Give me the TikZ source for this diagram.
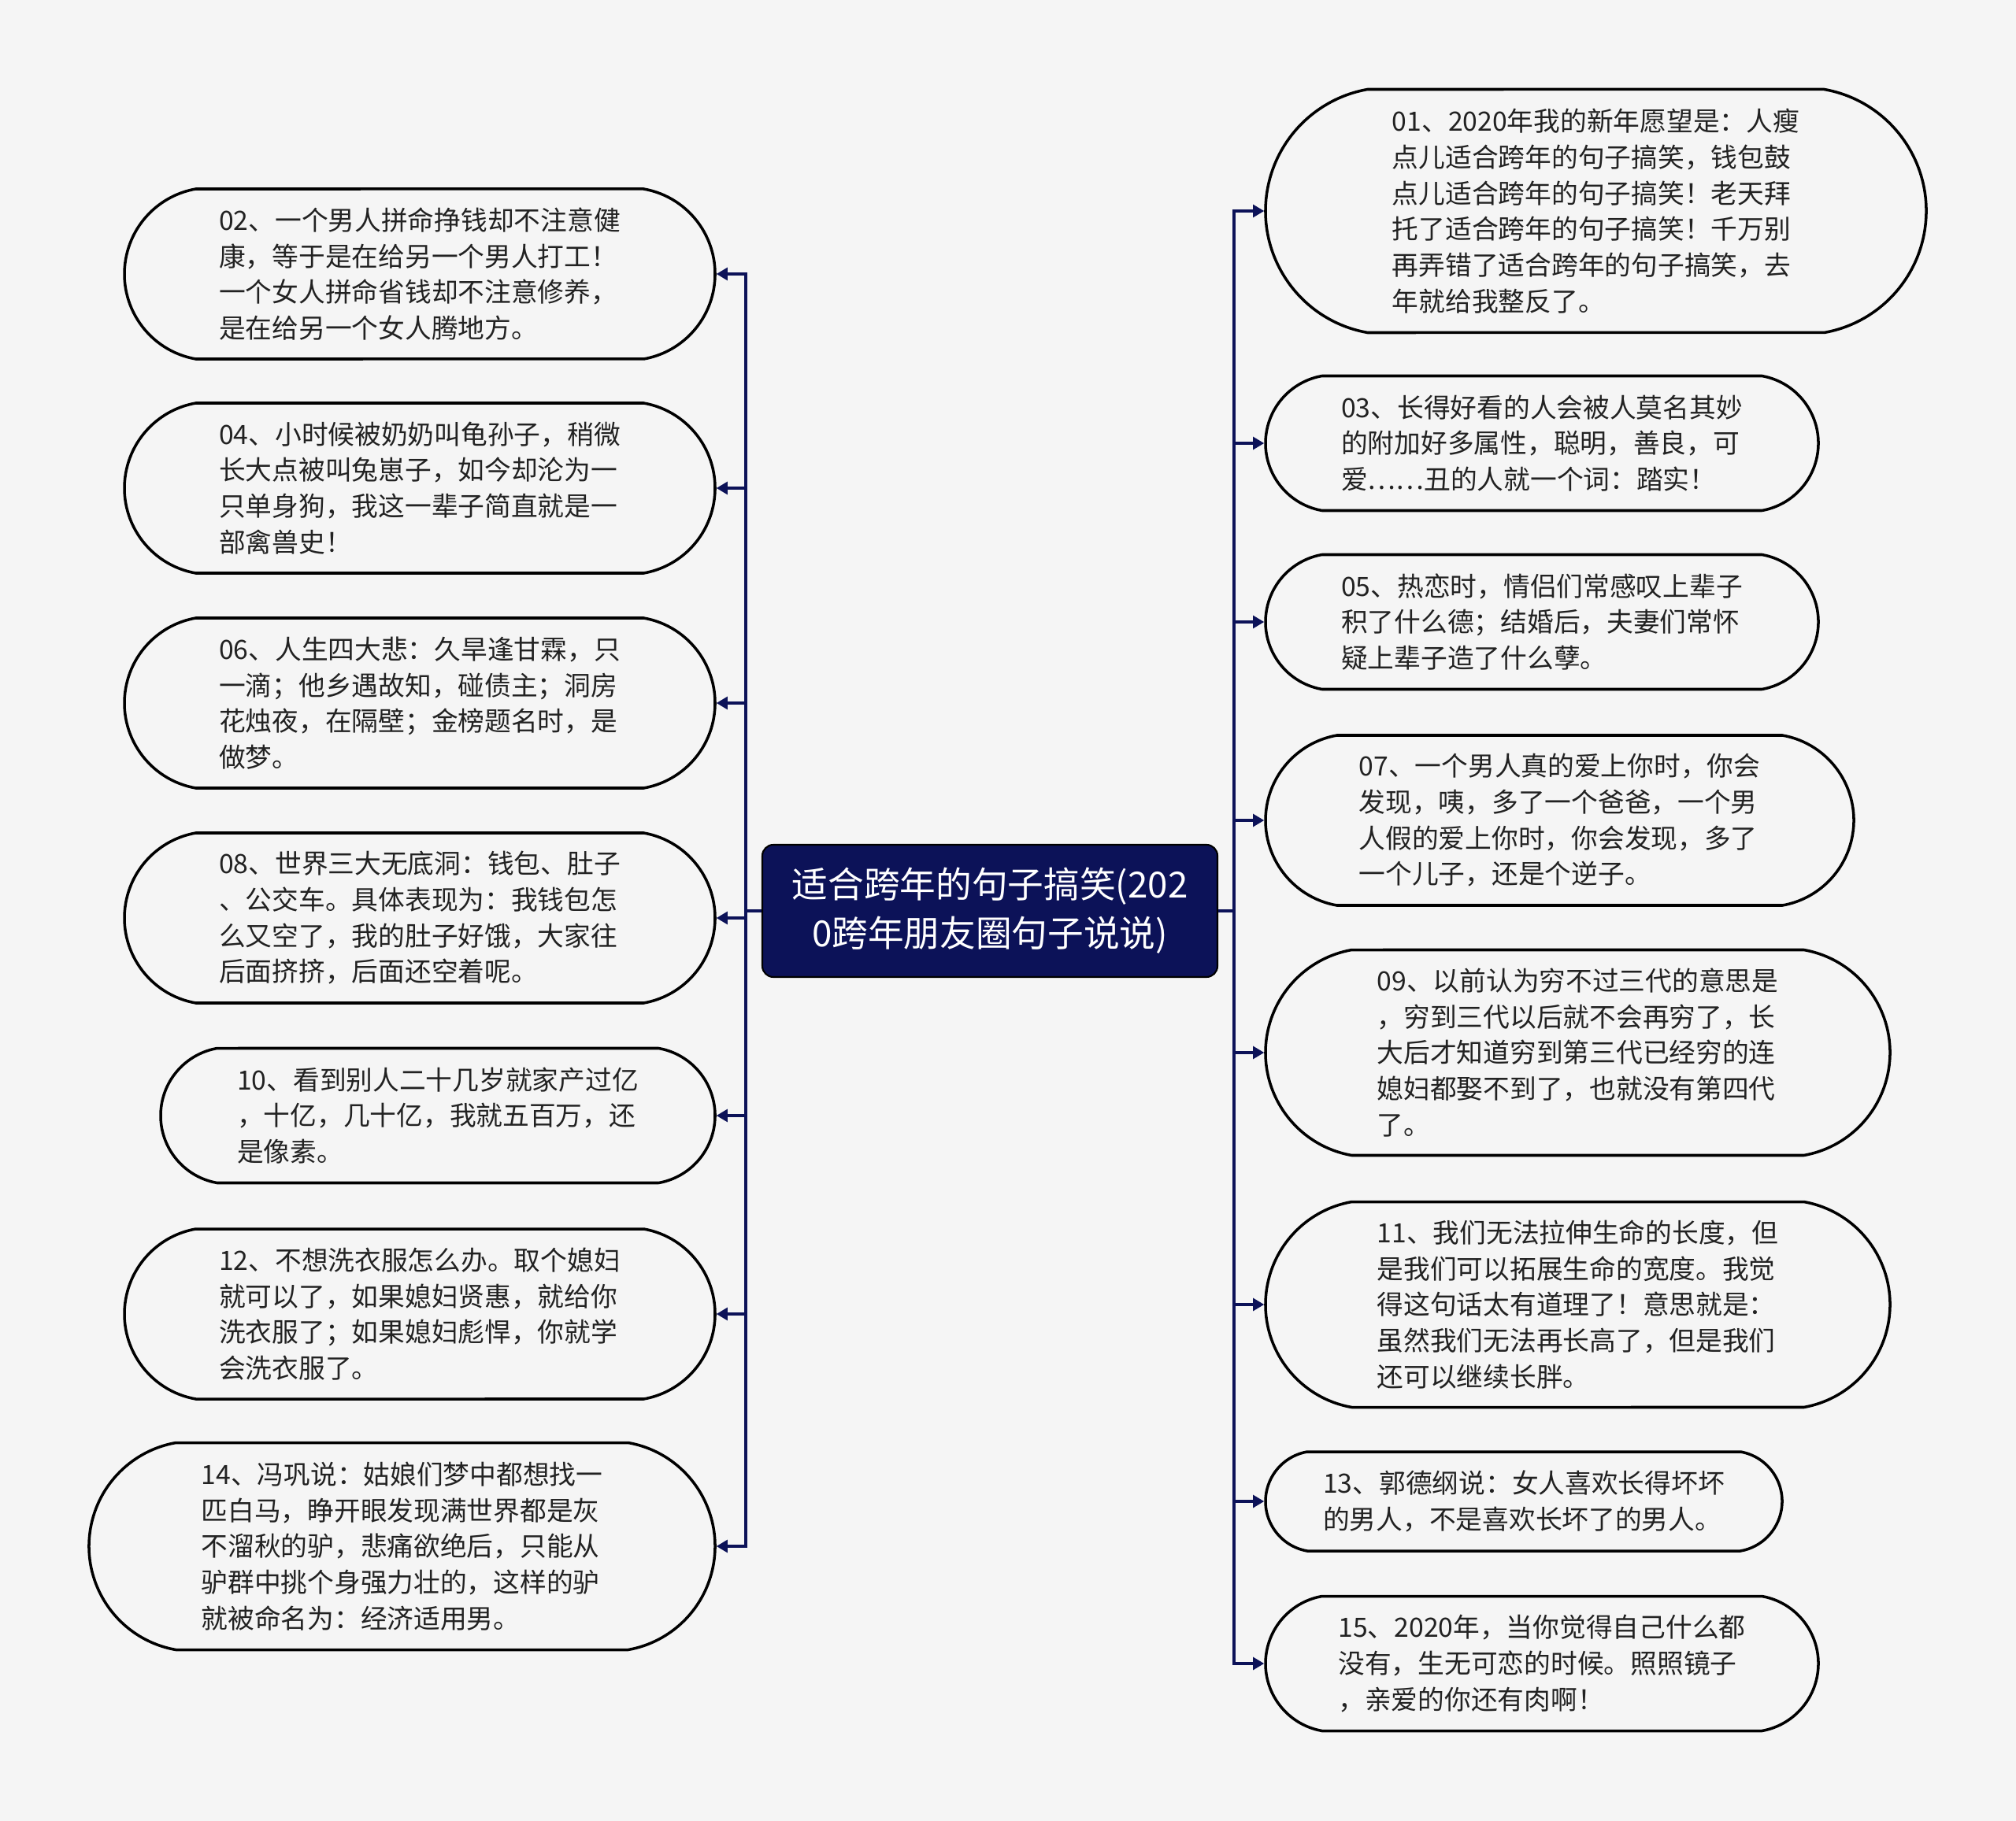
\documentclass[tikz,border=0pt]{standalone}
\usepackage{fontspec}
\setmainfont{Noto Sans CJK SC}
\usepackage{tikz}
\usetikzlibrary{shapes.misc,arrows.meta}
\definecolor{bgcol}{HTML}{F5F5F5}
\definecolor{navy}{RGB}{12,18,88}
\definecolor{inkcol}{HTML}{222222}

\begin{document}
\begin{tikzpicture}
	\tikzstyle{topic} = [rectangle, rounded corners=4pt, fill=navy, draw=black, line width=0.6pt, text=white, align=center, font=\fontsize{13}{17.6}\selectfont, minimum width=5.78cm, minimum height=1.68cm];
	\tikzstyle{bubble} = [rounded rectangle, rounded rectangle arc length=160, draw=black, line width=1pt, fill=bgcol, text=inkcol, align=left, inner xsep=0pt, font=\fontsize{9.6}{13}\selectfont];
	\tikzstyle{link} = [draw=navy, line width=0.9pt, -{Triangle[length=4pt,width=4.5pt]}];
	
	\useasboundingbox[fill=bgcol] (0,0) rectangle (25.6,-23.13);
	
	\node[topic] (root) at (12.57,-11.57) {适合跨年的句子搞笑(202\\0跨年朋友圈句子说说)};
	\coordinate (lx) at (9.47,0);
	\coordinate (rx) at (15.67,0);
	
	% left side
	\node[bubble, minimum width=7.50cm, minimum height=2.16cm] (n02) at (5.33,-3.48) {02、一个男人拼命挣钱却不注意健\\康，等于是在给另一个男人打工！\\一个女人拼命省钱却不注意修养，\\是在给另一个女人腾地方。};
	\node[bubble, minimum width=7.50cm, minimum height=2.16cm] (n04) at (5.33,-6.20) {04、小时候被奶奶叫龟孙子，稍微\\长大点被叫兔崽子，如今却沦为一\\只单身狗，我这一辈子简直就是一\\部禽兽史！};
	\node[bubble, minimum width=7.50cm, minimum height=2.16cm] (n06) at (5.33,-8.93) {06、人生四大悲：久旱逢甘霖，只\\一滴；他乡遇故知，碰债主；洞房\\花烛夜，在隔壁；金榜题名时，是\\做梦。};
	\node[bubble, minimum width=7.50cm, minimum height=2.16cm] (n08) at (5.33,-11.66) {08、世界三大无底洞：钱包、肚子\\、公交车。具体表现为：我钱包怎\\么又空了，我的肚子好饿，大家往\\后面挤挤，后面还空着呢。};
	\node[bubble, minimum width=7.04cm, minimum height=1.71cm] (n10) at (5.56,-14.17) {10、看到别人二十几岁就家产过亿\\，十亿，几十亿，我就五百万，还\\是像素。};
	\node[bubble, minimum width=7.50cm, minimum height=2.16cm] (n12) at (5.33,-16.69) {12、不想洗衣服怎么办。取个媳妇\\就可以了，如果媳妇贤惠，就给你\\洗衣服了；如果媳妇彪悍，你就学\\会洗衣服了。};
	\node[bubble, minimum width=7.95cm, minimum height=2.63cm] (n14) at (5.105,-19.64) {14、冯巩说：姑娘们梦中都想找一\\匹白马，睁开眼发现满世界都是灰\\不溜秋的驴，悲痛欲绝后，只能从\\驴群中挑个身强力壮的，这样的驴\\就被命名为：经济适用男。};
	
	% right side
	\node[bubble, minimum width=8.39cm, minimum height=3.09cm] (n01) at (20.265,-2.68) {01、2020年我的新年愿望是：人瘦\\点儿适合跨年的句子搞笑，钱包鼓\\点儿适合跨年的句子搞笑！老天拜\\托了适合跨年的句子搞笑！千万别\\再弄错了适合跨年的句子搞笑，去\\年就给我整反了。};
	\node[bubble, minimum width=7.02cm, minimum height=1.71cm] (n03) at (19.58,-5.63) {03、长得好看的人会被人莫名其妙\\的附加好多属性，聪明，善良，可\\爱……丑的人就一个词：踏实！};
	\node[bubble, minimum width=7.02cm, minimum height=1.71cm] (n05) at (19.58,-7.90) {05、热恋时，情侣们常感叹上辈子\\积了什么德；结婚后，夫妻们常怀\\疑上辈子造了什么孽。};
	\node[bubble, minimum width=7.47cm, minimum height=2.16cm] (n07) at (19.805,-10.42) {07、一个男人真的爱上你时，你会\\发现，咦，多了一个爸爸，一个男\\人假的爱上你时，你会发现，多了\\一个儿子，还是个逆子。};
	\node[bubble, minimum width=7.93cm, minimum height=2.61cm] (n09) at (20.035,-13.37) {09、以前认为穷不过三代的意思是\\，穷到三代以后就不会再穷了，长\\大后才知道穷到第三代已经穷的连\\媳妇都娶不到了，也就没有第四代\\了。};
	\node[bubble, minimum width=7.93cm, minimum height=2.61cm] (n11) at (20.035,-16.57) {11、我们无法拉伸生命的长度，但\\是我们可以拓展生命的宽度。我觉\\得这句话太有道理了！意思就是：\\虽然我们无法再长高了，但是我们\\还可以继续长胖。};
	\node[bubble, minimum width=6.56cm, minimum height=1.26cm] (n13) at (19.35,-19.07) {13、郭德纲说：女人喜欢长得坏坏\\的男人，不是喜欢长坏了的男人。};
	\node[bubble, minimum width=7.02cm, minimum height=1.71cm] (n15) at (19.58,-21.13) {15、2020年，当你觉得自己什么都\\没有，生无可恋的时候。照照镜子\\，亲爱的你还有肉啊！};
	
	\draw[link] (root.west) -| (lx |- n02.east) -- (n02.east);
	\draw[link] (root.west) -| (lx |- n04.east) -- (n04.east);
	\draw[link] (root.west) -| (lx |- n06.east) -- (n06.east);
	\draw[link] (root.west) -| (lx |- n08.east) -- (n08.east);
	\draw[link] (root.west) -| (lx |- n10.east) -- (n10.east);
	\draw[link] (root.west) -| (lx |- n12.east) -- (n12.east);
	\draw[link] (root.west) -| (lx |- n14.east) -- (n14.east);
	
	\draw[link] (root.east) -| (rx |- n01.west) -- (n01.west);
	\draw[link] (root.east) -| (rx |- n03.west) -- (n03.west);
	\draw[link] (root.east) -| (rx |- n05.west) -- (n05.west);
	\draw[link] (root.east) -| (rx |- n07.west) -- (n07.west);
	\draw[link] (root.east) -| (rx |- n09.west) -- (n09.west);
	\draw[link] (root.east) -| (rx |- n11.west) -- (n11.west);
	\draw[link] (root.east) -| (rx |- n13.west) -- (n13.west);
	\draw[link] (root.east) -| (rx |- n15.west) -- (n15.west);
\end{tikzpicture}
\end{document}
